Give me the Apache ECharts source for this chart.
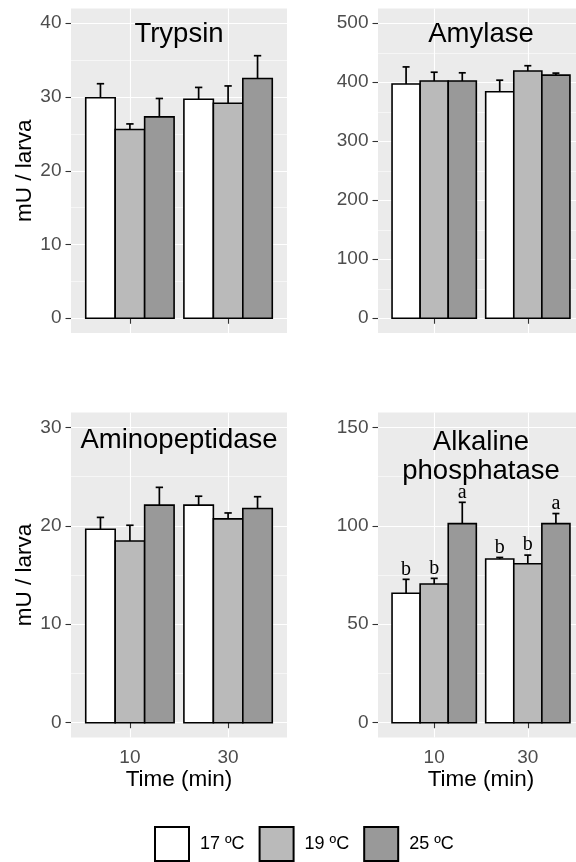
<!DOCTYPE html>
<html><head><meta charset="utf-8">
<script src="https://cdn.jsdelivr.net/npm/echarts@6/dist/echarts.min.js"></script>
<style>html,body{margin:0;padding:0;background:#fff}#c{width:576px;height:862px}</style>
</head><body><div id="c"></div>
<script>
// ---- data ----
const categories = ['10', '30'];
const temperatures = ['17 ºC', '19 ºC', '25 ºC'];
const panelTitles = ['Trypsin', 'Amylase', 'Aminopeptidase', 'Alkaline\nphosphatase'];

const trypsin17 = [29.9, 29.7];
const trypsin19 = [25.6, 29.15];
const trypsin25 = [27.3, 32.5];
const trypsinSE17 = [1.9, 1.6];
const trypsinSE19 = [0.75, 2.35];
const trypsinSE25 = [2.5, 3.1];

const amylase17 = [397, 384];
const amylase19 = [402, 419];
const amylase25 = [402, 412];
const amylaseSE17 = [29, 19.5];
const amylaseSE19 = [15, 9];
const amylaseSE25 = [14, 3.5];

const aminopep17 = [19.65, 22.1];
const aminopep19 = [18.45, 20.7];
const aminopep25 = [22.1, 21.75];
const aminopepSE17 = [1.2, 0.9];
const aminopepSE19 = [1.6, 0.6];
const aminopepSE25 = [1.8, 1.2];

const alkphos17 = [65.7, 83.1];
const alkphos19 = [70.4, 80.7];
const alkphos25 = [101.1, 101.1];
const alkphosSE17 = [7.1, 0.8];
const alkphosSE19 = [2.9, 4.4];
const alkphosSE25 = [10.8, 5.1];
const alkLetters17 = ['b', 'b'];
const alkLetters19 = ['b', 'b'];
const alkLetters25 = ['a', 'a'];

const trypsinTicks = [0, 10, 20, 30, 40];
const trypsinMinor = [5, 15, 25, 35];
const amylaseTicks = [0, 100, 200, 300, 400, 500];
const amylaseMinor = [50, 150, 250, 350, 450];
const aminopepTicks = [0, 10, 20, 30];
const aminopepMinor = [5, 15, 25];
const alkphosTicks = [0, 50, 100, 150];
const alkphosMinor = [25, 75, 125];

// ---- build ----
const fills = ['#FFFFFF', '#BABABA', '#999999'];
const FONT = '"Liberation Sans", Arial, sans-serif';
const panels = [
  { means: [trypsin17, trypsin19, trypsin25], se: [trypsinSE17, trypsinSE19, trypsinSE25], ticks: trypsinTicks, minor: trypsinMinor, letters: null },
  { means: [amylase17, amylase19, amylase25], se: [amylaseSE17, amylaseSE19, amylaseSE25], ticks: amylaseTicks, minor: amylaseMinor, letters: null },
  { means: [aminopep17, aminopep19, aminopep25], se: [aminopepSE17, aminopepSE19, aminopepSE25], ticks: aminopepTicks, minor: aminopepMinor, letters: null },
  { means: [alkphos17, alkphos19, alkphos25], se: [alkphosSE17, alkphosSE19, alkphosSE25], ticks: alkphosTicks, minor: alkphosMinor, letters: [alkLetters17, alkLetters19, alkLetters25] }
];
const gridRects = [
  { left: 71, top: 8.5, width: 216, height: 324.5 },
  { left: 378, top: 8.5, width: 206, height: 324.5 },
  { left: 71, top: 412.5, width: 216, height: 325 },
  { left: 378, top: 412.5, width: 206, height: 325 }
];
const titleCenters = [34, 34, 440.5, 457];

const grids = [], xAxes = [], yAxes = [], series = [], titles = [];
const dodge = 0.9, barW = dodge / 3, capW = 0.075;

panels.forEach((p, i) => {
  const g = gridRects[i];
  const bottomRow = i >= 2, leftCol = i % 2 === 0;
  const top = p.ticks[p.ticks.length - 1];
  grids.push(Object.assign({ show: true, backgroundColor: '#EBEBEB', borderWidth: 0, outerBoundsMode: 'none', containLabel: false }, g));
  xAxes.push({
    type: 'value', gridIndex: i, min: 0.4, max: 2.6,
    axisLine: { show: false },
    axisTick: { show: true, customValues: [1, 2], length: 5.5, lineStyle: { color: '#333333', width: 1.1 } },
    axisLabel: { show: bottomRow, customValues: [1, 2], formatter: v => categories[Math.round(v) - 1], color: '#4D4D4D', fontSize: 19, fontFamily: FONT, margin: 10.5 },
    splitLine: { show: true, lineStyle: { color: '#FFFFFF', width: 1.1 } },
    name: bottomRow ? 'Time (min)' : '', nameLocation: 'middle', nameGap: 30,
    nameTextStyle: { color: '#000', fontSize: 22.5, fontFamily: FONT }
  });
  yAxes.push({
    type: 'value', gridIndex: i, position: 'left', min: -0.05 * top, max: 1.05 * top,
    axisLine: { show: false },
    axisTick: { show: true, customValues: p.ticks, length: 5.5, lineStyle: { color: '#333333', width: 1.1 } },
    axisLabel: { show: true, customValues: p.ticks, color: '#4D4D4D', fontSize: 19, fontFamily: FONT, margin: 9.5 },
    splitLine: { show: true, lineStyle: { color: '#FFFFFF', width: 1.1 } },
    name: leftCol ? 'mU / larva' : '', nameLocation: 'middle', nameGap: 35,
    nameTextStyle: { color: '#000', fontSize: 22.5, fontFamily: FONT }
  });
  yAxes.push({
    type: 'value', gridIndex: i, position: 'left', min: -0.05 * top, max: 1.05 * top,
    axisLine: { show: false },
    axisTick: { show: false, customValues: p.minor },
    axisLabel: { show: false, customValues: p.minor },
    splitLine: { show: true, lineStyle: { color: '#FFFFFF', width: 0.55 } },
    z: 0
  });
  titles.push({
    text: panelTitles[i], left: g.left + g.width / 2, top: titleCenters[i],
    textAlign: 'center', textVerticalAlign: 'middle', padding: 0,
    textStyle: { fontSize: 27.5, fontWeight: 'normal', color: '#000', fontFamily: FONT, lineHeight: 29.5 }
  });
  p.means.forEach((vals, s) => {
    const off = (s - 1) * barW;
    const letters = p.letters ? p.letters[s] : null;
    series.push({
      type: 'custom', name: temperatures[s], xAxisIndex: i, yAxisIndex: 2 * i,
      itemStyle: { color: fills[s], borderColor: '#000', borderWidth: 1.6 },
      data: categories.map((c, k) => [k + 1, vals[k], p.se[s][k], k]),
      renderItem: (params, api) => {
        const x = api.value(0), v = api.value(1), e = api.value(2), k = api.value(3);
        const tl = api.coord([x + off - barW / 2, v]);
        const br = api.coord([x + off + barW / 2, 0]);
        const base = api.coord([x + off, v]);
        const et = api.coord([x + off, v + e]);
        const hc = api.size([capW / 2, 0])[0];
        const children = [
          { type: 'rect', shape: { x: tl[0], y: tl[1], width: br[0] - tl[0], height: br[1] - tl[1] },
            style: { fill: fills[s], stroke: '#000', lineWidth: 1.6 } },
          { type: 'line', shape: { x1: base[0], y1: base[1], x2: et[0], y2: et[1] }, style: { stroke: '#000', lineWidth: 1.7 } },
          { type: 'line', shape: { x1: et[0] - hc, y1: et[1], x2: et[0] + hc, y2: et[1] }, style: { stroke: '#000', lineWidth: 1.7 } }
        ];
        if (letters) {
          children.push({ type: 'text', style: { text: letters[k], x: et[0], y: et[1], align: 'center', verticalAlign: 'bottom',
            fontSize: 20, fontFamily: '"Liberation Serif", "Times New Roman", serif', fill: '#000' } });
        }
        return { type: 'group', children };
      }
    });
  });
});

const chart = echarts.init(document.getElementById('c'), null, { renderer: 'canvas' });
chart.setOption({
  animation: false,
  backgroundColor: '#FFFFFF',
  title: titles,
  grid: grids,
  xAxis: xAxes,
  yAxis: yAxes,
  legend: {
    left: 154, top: 826, itemWidth: 34, itemHeight: 34, itemGap: 14, selectedMode: false, padding: 0,
    data: temperatures.map((t, s) => ({ name: t, icon: 'rect', itemStyle: { color: fills[s], borderColor: '#000', borderWidth: 2 } })),
    textStyle: { fontSize: 18, color: '#000', fontFamily: FONT, padding: [0, 0, 0, 6] }
  },
  series
});
</script></body></html>
